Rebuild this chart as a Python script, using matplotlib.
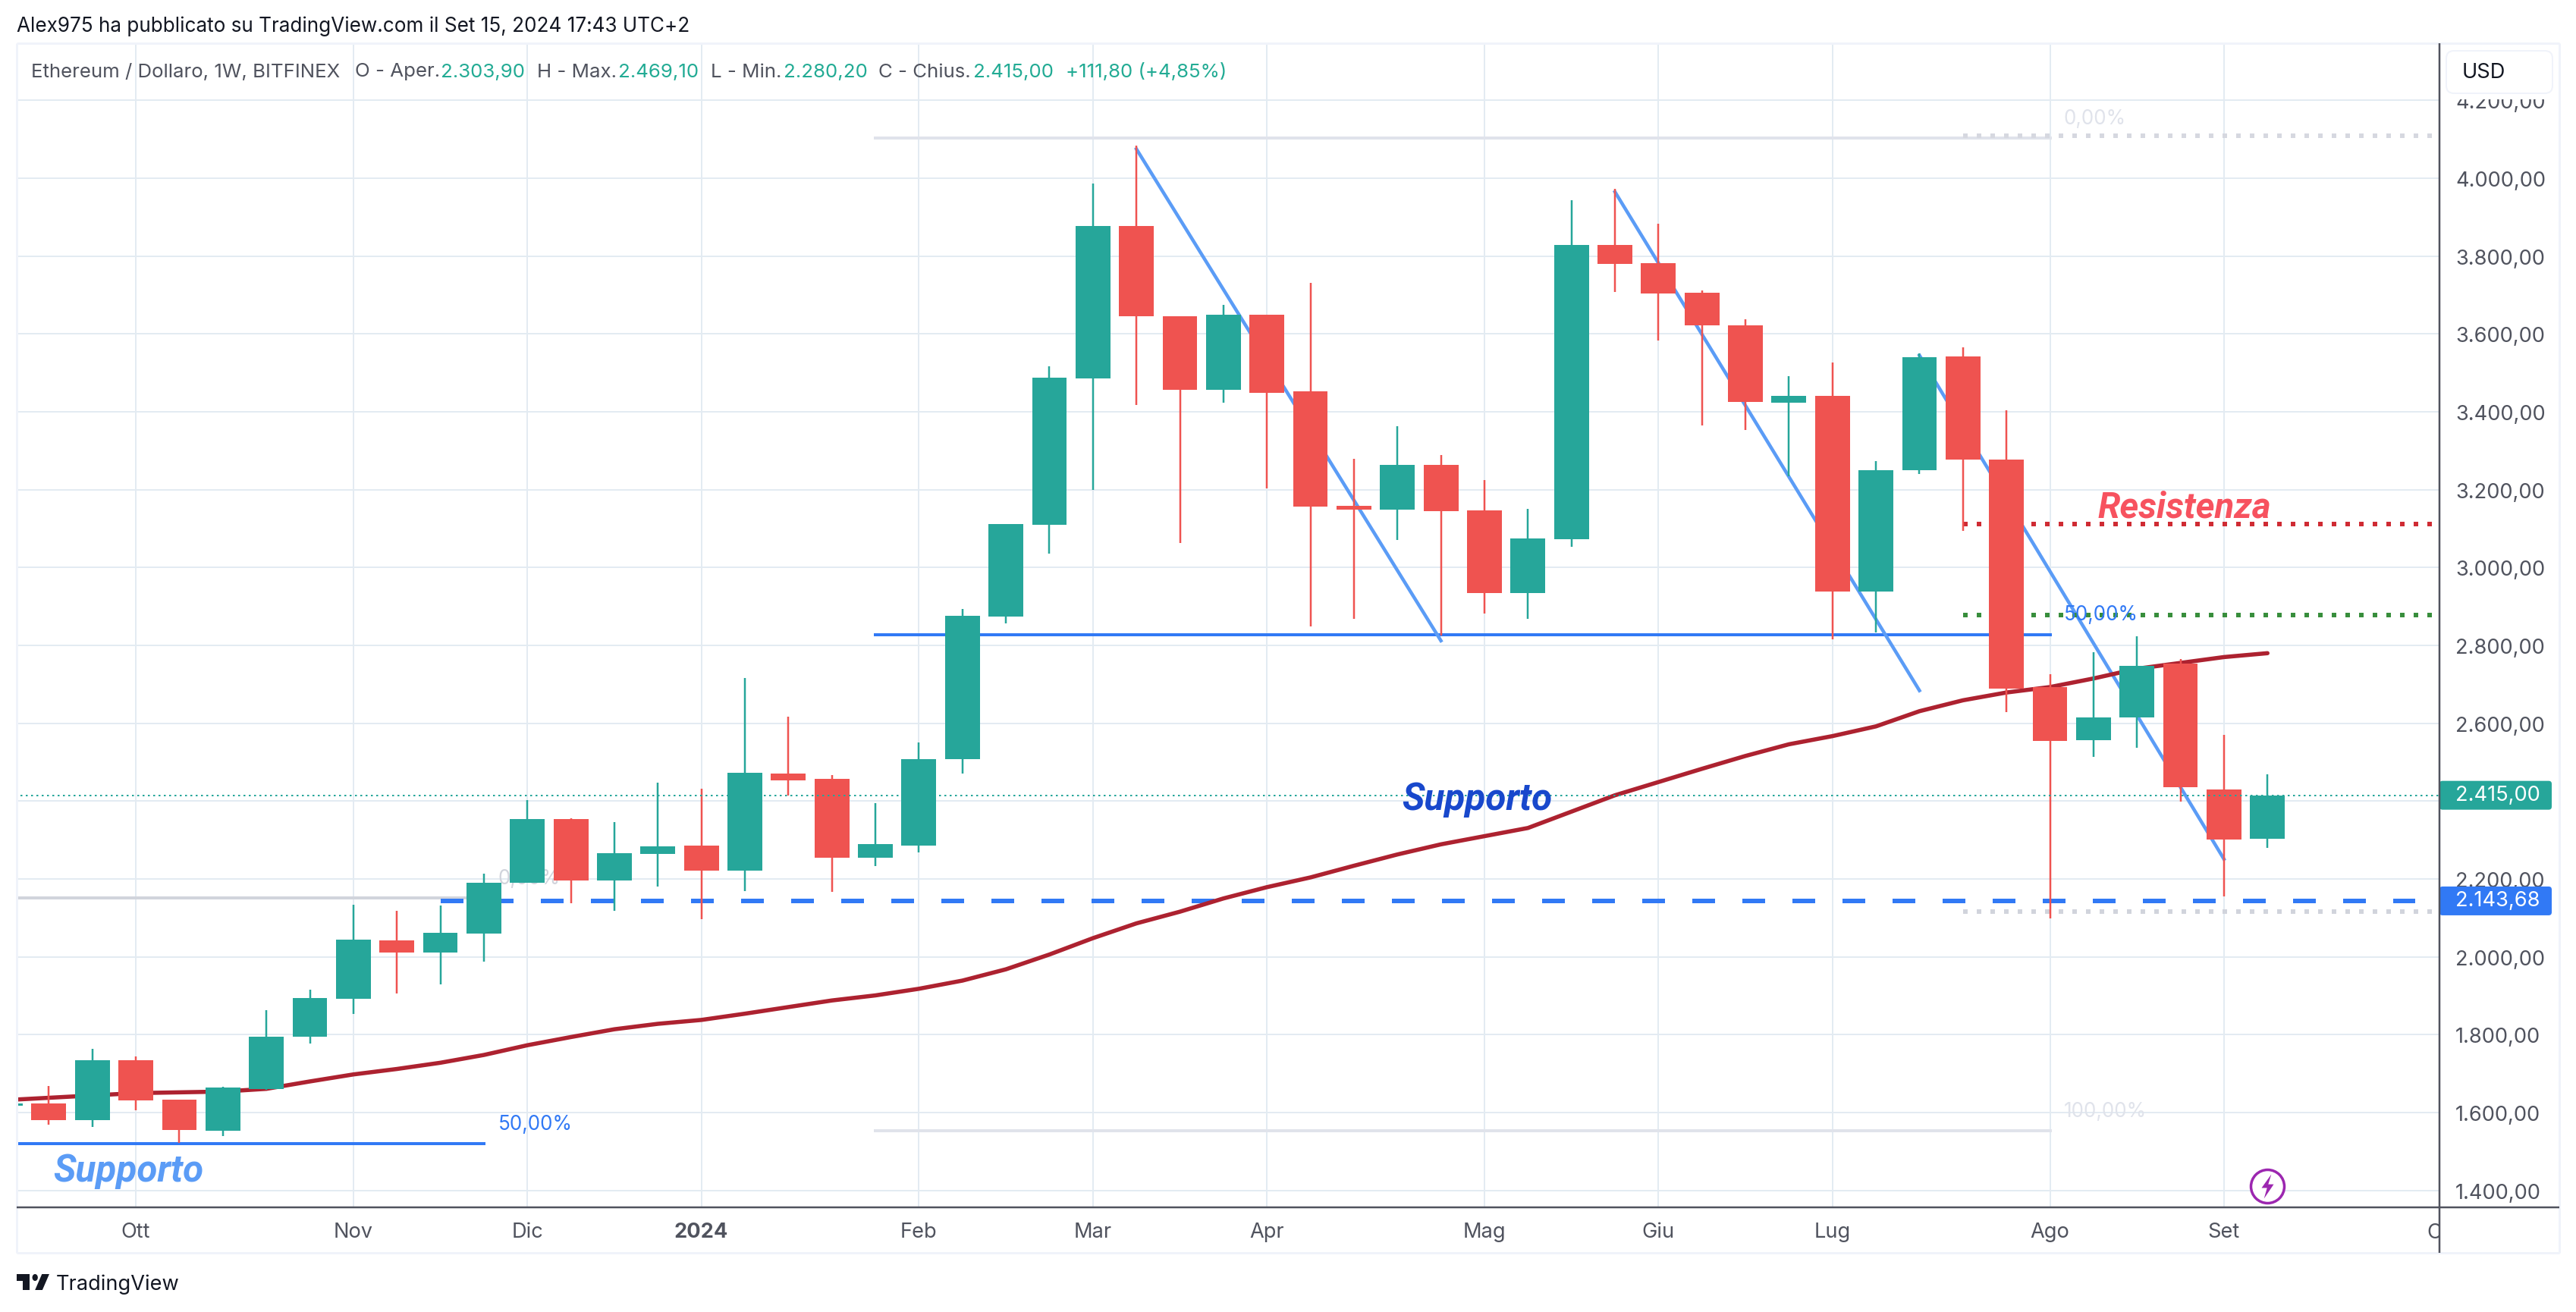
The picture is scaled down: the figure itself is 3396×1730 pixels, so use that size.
import numpy as np
import matplotlib
matplotlib.use("Agg")
import matplotlib.pyplot as plt
from matplotlib.lines import Line2D
from matplotlib.patches import FancyBboxPatch, Polygon, Ellipse, Rectangle
from matplotlib.transforms import Affine2D, Bbox

W, H = 3396, 1731
PX = 72 / 200  # one output pixel in points

# weekly candles, first one is cut by the left edge
bars = np.arange(-1, 52)
opens = [1617, 1623, 1580, 1735, 1633, 1554, 1661, 1795, 1892, 2042, 2011, 2059, 2190, 2354, 2196, 2265, 2286, 2221,
         2470, 2457, 2255, 2285, 2508, 2874, 3110, 3485, 3877, 3645, 3457, 3649, 3453, 3159, 3149, 3264, 3147, 2934,
         3072, 3828, 3781, 3705, 3623, 3423, 3441, 2938, 3250, 3542, 3277, 2693, 2556, 2615, 2753, 2430, 2303.9]
highs = [1623, 1669, 1763, 1745, 1634, 1667, 1864, 1916, 2133, 2119, 2132, 2213, 2403, 2356, 2347, 2448, 2432, 2717,
         2617, 2466, 2394, 2550, 2893, 3112, 3516, 3986, 4083, 3645, 3674, 3649, 3731, 3279, 3363, 3289, 3224, 3151,
         3943, 3973, 3883, 3711, 3637, 3491, 3526, 3273, 3550, 3565, 3404, 2726, 2783, 2823, 2765, 2570, 2469.1]
lows = [1617, 1568, 1564, 1605, 1522, 1540, 1658, 1777, 1853, 1905, 1929, 1987, 2190, 2138, 2119, 2180, 2097, 2169,
        2415, 2167, 2234, 2268, 2470, 2857, 3035, 3200, 3417, 3063, 3423, 3203, 2849, 2868, 3071, 2826, 2881, 2868,
        3053, 3707, 3583, 3364, 3353, 3235, 2816, 2833, 3240, 3094, 2629, 2099, 2513, 2538, 2398, 2155, 2280.2]
closes = [1623, 1580, 1734, 1631, 1556, 1664, 1795, 1894, 2044, 2011, 2062, 2190, 2354, 2196, 2267, 2284, 2221, 2473,
          2453, 2255, 2289, 2508, 2876, 3112, 3487, 3877, 3645, 3457, 3649, 3449, 3157, 3149, 3264, 3145, 2934, 3074,
          3828, 3779, 3704, 3622, 3425, 3441, 2938, 3250, 3540, 3277, 2689, 2554, 2615, 2747, 2436, 2301, 2415]
ma_line = [1632, 1638, 1644, 1650, 1652, 1654, 1661, 1680, 1698, 1712, 1728, 1748, 1773, 1794, 1814, 1828, 1838, 1854,
           1871, 1888, 1901, 1918, 1939, 1968, 2006, 2048, 2086, 2116, 2150, 2179, 2204, 2234, 2263, 2289, 2310, 2331,
           2373, 2415, 2449, 2483, 2516, 2546, 2567, 2592, 2631, 2659, 2679, 2693, 2715, 2740, 2755, 2770, 2780]

# the 2.400,00 label is hidden by the last price tag in the original
price_ticks = [1400, 1600, 1800, 2000, 2200, 2400, 2600, 2800, 3000, 3200, 3400, 3600, 3800, 4000, 4200]
price_labels = ["1.400,00", "1.600,00", "1.800,00", "2.000,00", "2.200,00", "", "2.600,00", "2.800,00",
                "3.000,00", "3.200,00", "3.400,00", "3.600,00", "3.800,00", "4.000,00", "4.200,00"]
month_bars = [2, 7, 11, 15, 20, 24, 28, 33, 37, 41, 46, 50]
month_labels = ["Ott", "Nov", "Dic", "2024", "Feb", "Mar", "Apr", "Mag", "Giu", "Lug", "Ago", "Set"]

last_price = 2415.0
support_price = 2143.68
resist_price = 3112
green_dots_price = 2878
fib_top_dots = 4109
fib_low_dots = 2116
fib_right = [4103, 2827, 1553]
fib_left = [2151, 1520]

GREEN = "#26a69a"
RED = "#ef5350"
BLUE = "#3179f5"
LIGHT = "#5b9cf6"
TEXT = "#50535e"
GRID = "#e3ebf2"
BORDER = "#f0f3fa"
FONT = "Inter"

plt.rcParams["font.family"] = [FONT, "DejaVu Sans"]

fig = plt.figure(figsize=(W / 200, H / 200), dpi=200, facecolor="white")
px = Affine2D().scale(1, -1).translate(0, H)  # reference pixels, y going down


def fig_line(x0, y0, x1, y1, color, lw):
    fig.add_artist(Line2D([x0, x1], [y0, y1], color=color, lw=lw * PX, transform=px, solid_capstyle="butt"))


def fig_text(x, y, s, color=TEXT, size=10.0, **kw):
    fig.text(x / W, 1 - y / H, s, color=color, fontsize=size, va="center", **kw)


# plot area
left, right, top, bottom = 22, 3216, 58, 1593
ax = fig.add_axes([left / W, 1 - bottom / H, (right - left) / W, (bottom - top) / H])
ax.set_xlim((left - 64.4) / 57.35, (right - 64.4) / 57.35)
ax.set_ylim(1356.6, 4346.7)
for s in ax.spines.values():
    s.set_visible(False)

ax.set_axisbelow(True)
ax.grid(True, color=GRID, lw=2 * PX)
ax.yaxis.tick_right()
ax.set_yticks(price_ticks)
ax.set_yticklabels(price_labels)
ax.set_xticks(month_bars)
ax.set_xticklabels(month_labels)
ax.tick_params(axis="y", length=0, pad=21 * PX, labelsize=9.8, labelcolor=TEXT)
ax.tick_params(axis="x", length=0, pad=19 * PX, labelsize=9.8, labelcolor=TEXT)
ax.get_xticklabels()[3].set_fontweight("bold")

# label of the next month, cut by the price scale
ott = ax.text(55, -0.0215, "Ott", transform=ax.get_xaxis_transform(), ha="center", va="center",
              color=TEXT, fontsize=9.8)
ott.set_clip_box(Bbox.from_extents(0, 0, right, H))
ott.set_clip_on(True)

# drawings under the candles
ax.plot([19, 46], [fib_right[0]] * 2, color="#e0e3eb", lw=4 * PX, zorder=1.5)
ax.plot([19, 46], [fib_right[1]] * 2, color=BLUE, lw=4 * PX, zorder=1.5)
ax.plot([19, 46], [fib_right[2]] * 2, color="#e0e3eb", lw=4 * PX, zorder=1.5)
ax.plot([-2, 10], [fib_left[0]] * 2, color="#d1d4dc", lw=4 * PX, zorder=1.5)
ax.plot([-2, 10], [fib_left[1]] * 2, color=BLUE, lw=4 * PX, zorder=1.5)
ax.text(10.33, 2202, "0,00%", color="#d1d4dc", fontsize=9.4, va="center", zorder=1.6)
ax.text(10.33, 1570, "50,00%", color=BLUE, fontsize=9.4, va="center", zorder=6)
ax.text(46.32, 4153, "0,00%", color="#e0e3eb", fontsize=9.4, va="center", zorder=6)
ax.text(46.32, 2880, "50,00%", color=BLUE, fontsize=9.4, va="center", zorder=6)
ax.text(46.32, 1604, "100,00%", color="#e0e3eb", fontsize=9.4, va="center", zorder=6)

ax.plot([25, 32], [4075, 2812], color=LIGHT, lw=4.5 * PX, zorder=1.7)
ax.plot([36, 43], [3965, 2684], color=LIGHT, lw=4.5 * PX, zorder=1.7)
ax.plot([43, 50], [3545, 2251], color=LIGHT, lw=4.5 * PX, zorder=1.7)


def dotted(x0, x1, y, color, on, off, lw=6, zorder=1.8):
    ax.plot([x0, x1], [y, y], color=color, lw=lw * PX, zorder=zorder, dash_capstyle="butt",
            linestyle=(0, (on / lw, off / lw)))


dotted(44, 54.8, resist_price, "#cf2b33", 6, 12)
dotted(44, 54.8, green_dots_price, "#388e3c", 6, 12)
dotted(44, 54.8, fib_top_dots, "#d6d8e0", 6, 12)
dotted(44, 54.8, fib_low_dots, "#d1d4dc", 6, 12)
dotted(9, 54.4, support_price, BLUE, 30, 36)

# candles
colors = [GREEN if c >= o else RED for o, c in zip(opens, closes)]
ax.vlines(bars, lows, highs, colors=colors, lw=2.5 * PX, zorder=3)
ax.bar(bars, np.array(closes) - np.array(opens), bottom=opens, width=0.8, color=colors, lw=0, zorder=3.1)

ax.plot(bars, ma_line, color="#ad2230", lw=5.5 * PX, zorder=2.5, solid_capstyle="round")
dotted(-2, 56, last_price, GREEN, 2.5, 4.5, lw=2, zorder=4)

# text labels on the chart
ax.text(0.1, 1452, "Supporto", color=LIGHT, fontsize=17.8, family="Roboto", style="italic",
        weight="bold", va="center", zorder=6)
ax.text(31.1, 2405, "Supporto", color="#1848cc", fontsize=17.8, family="Roboto", style="italic",
        weight="bold", va="center", zorder=6)
ax.text(47.1, 3155, "Resistenza", color="#f7525f", fontsize=17.1, family="Roboto", style="italic",
        weight="bold", va="center", zorder=6)

# lightning marker
bolt = [(0.3, 1), (-0.5, -0.12), (-0.05, -0.12), (-0.3, -1), (0.5, 0.18), (0.05, 0.18)]
ax.plot([51], [1411], marker="o", ms=44 * PX, mfc="white", mec="#9c27b0", mew=3.5 * PX, zorder=7, clip_on=False)
ax.plot([51], [1411], marker=bolt, ms=32 * PX, mfc="#9c27b0", mec="#9c27b0", mew=0, zorder=8, clip_on=False)

# price scale overlay: tags sit on top of the tick labels
scale = fig.add_axes([right / W, 1 - bottom / H, (3374 - right) / W, (bottom - top) / H], facecolor="none")
scale.set_xlim(right, 3374)
scale.set_ylim(ax.get_ylim())
scale.axis("off")
asp = (4346.7 - 1356.6) / (bottom - top)
for price, lab, col in [(last_price, "2.415,00", GREEN), (support_price, "2.143,68", BLUE)]:
    scale.add_patch(FancyBboxPatch((right, price - 19 * asp), 148, 38 * asp, mutation_aspect=asp,
                                   boxstyle="round,pad=0,rounding_size=4", fc=col, ec="none", zorder=3))
    scale.text(3237, price + 2, lab, color="white", fontsize=9.8, va="center", zorder=4)

# USD box, with the white strip that cuts the top price label
fig.add_artist(Rectangle((right + 2, top + 2), 3372 - right - 2, 72, fc="white", ec="none", transform=px, zorder=4))
fig.add_artist(FancyBboxPatch((3225, 68), 140, 56, boxstyle="round,pad=0,rounding_size=10", fc="white",
                              ec=BORDER, lw=2 * PX, transform=px, zorder=5))
fig_text(3246, 96, "USD", color="#131722", size=9.8, zorder=6)

# frame
fig_line(left, top, 3374, top, BORDER, 3)
fig_line(left, 1653, 3374, 1653, BORDER, 3)
fig_line(left, top, left, 1653, BORDER, 3)
fig_line(3374, top, 3374, 1653, BORDER, 3)
fig_line(right, top, right, 1653, "#50535e", 2.5)
fig_line(left, bottom, 3374, bottom, "#50535e", 2.5)

# header and legend
fig_text(22, 35, "Alex975 ha pubblicato su TradingView.com il Set 15, 2024 17:43 UTC+2", color="#131722", size=9.4)
fig_text(41, 95, "Ethereum / Dollaro, 1W, BITFINEX", size=9.3)
for x, s in [(468, "O - Aper."), (708, "H - Max."), (937, "L - Min."), (1158, "C - Chius.")]:
    fig_text(x, 95, s, size=9.3)
for x, s in [(581, "2.303,90"), (815, "2.469,10"), (1033, "2.280,20"), (1283, "2.415,00"), (1405, "+111,80 (+4,85%)")]:
    fig_text(x, 95, s, color="#22ab94", size=9.3)

# logo
lx = lambda v: 22 + v * 1.21
ly = lambda v: 1681 + (v - 6) * 1.5
fig.add_artist(Polygon([(lx(0), ly(6)), (lx(14), ly(6)), (lx(14), ly(20)), (lx(7), ly(20)), (lx(7), ly(12)),
                        (lx(0), ly(12))], fc="#131722", ec="none", transform=px))
fig.add_artist(Polygon([(lx(27.5), ly(6)), (lx(35.5), ly(6)), (lx(28), ly(20)), (lx(20), ly(20))],
                       fc="#131722", ec="none", transform=px))
fig.add_artist(Ellipse((lx(20), ly(9)), 7.3, 9, fc="#131722", ec="none", transform=px))
fig_text(74, 1694, "TradingView", color="#131722", size=9.8)

fig.savefig("out.png", dpi=200)
